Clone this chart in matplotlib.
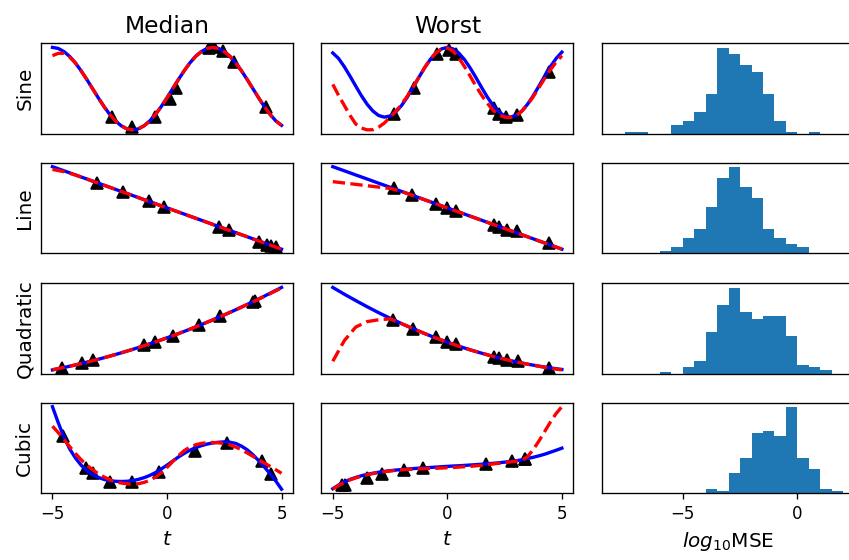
import matplotlib
matplotlib.use('Agg')
import matplotlib.pyplot as plt

# time grids the curves were read at
T = [-5.0, -4.5, -4.0, -3.5, -3.0, -2.5, -2.0, -1.5, -1.0, -0.5, 0.0,
     0.5, 1.0, 1.5, 2.0, 2.5, 3.0, 3.5, 4.0, 4.5, 5.0]
T_FINE = [-5.0, -4.75, -4.5, -4.25, -4.0, -3.75, -3.5, -3.25, -3.0, -2.75, -2.5,
          -2.25, -2.0, -1.75, -1.5, -1.25, -1.0, -0.75, -0.5, -0.25, 0.0,
          0.25, 0.5, 0.75, 1.0, 1.25, 1.5, 1.75, 2.0, 2.25, 2.5,
          2.75, 3.0, 3.25, 3.5, 3.75, 4.0, 4.25, 4.5, 4.75, 5.0]

row_names = ['Sine', 'Line', 'Quadratic', 'Cubic']
col_titles = ['Median', 'Worst']

# ---- Sine (fine grid) ----
sine_med_true = [0.95, 0.939, 0.905, 0.852, 0.781, 0.695, 0.60, 0.50, 0.40, 0.305, 0.219,
                 0.148, 0.095, 0.061, 0.05, 0.061, 0.095, 0.148, 0.219, 0.305, 0.40,
                 0.50, 0.60, 0.695, 0.781, 0.852, 0.905, 0.939, 0.95, 0.939, 0.905,
                 0.852, 0.781, 0.695, 0.60, 0.50, 0.40, 0.305, 0.219, 0.148, 0.10]
sine_med_pred = [0.86, 0.885, 0.885, 0.845, 0.781, 0.695, 0.60, 0.50, 0.40, 0.305, 0.219,
                 0.148, 0.095, 0.061, 0.05, 0.061, 0.095, 0.148, 0.219, 0.305, 0.40,
                 0.50, 0.60, 0.695, 0.781, 0.852, 0.905, 0.939, 0.95, 0.939, 0.905,
                 0.852, 0.781, 0.695, 0.60, 0.50, 0.40, 0.305, 0.219, 0.148, 0.10]
sine_med_obs_t = [-2.40, -1.53, -0.51, 0.11, 0.39, 1.85, 2.05, 2.46, 2.93, 4.30]
sine_med_obs_y = [0.19, 0.08, 0.19, 0.39, 0.51, 0.94, 0.95, 0.91, 0.79, 0.30]

sine_wst_true = [0.895, 0.835, 0.745, 0.641, 0.532, 0.425, 0.331, 0.257, 0.208, 0.190, 0.203,
                 0.247, 0.317, 0.409, 0.514, 0.624, 0.729, 0.822, 0.894, 0.940, 0.956,
                 0.940, 0.894, 0.822, 0.729, 0.624, 0.514, 0.409, 0.317, 0.247, 0.203,
                 0.190, 0.208, 0.257, 0.331, 0.425, 0.532, 0.641, 0.745, 0.835, 0.904]
sine_wst_pred = [0.55, 0.43, 0.32, 0.21, 0.115, 0.07, 0.05, 0.052, 0.08, 0.125, 0.19,
                 0.255, 0.33, 0.42, 0.52, 0.625, 0.73, 0.825, 0.895, 0.94, 0.95,
                 0.915, 0.84, 0.745, 0.64, 0.53, 0.43, 0.34, 0.265, 0.215, 0.19,
                 0.185, 0.205, 0.255, 0.325, 0.415, 0.515, 0.615, 0.71, 0.795, 0.865]
sine_wst_obs_t = [-2.33, -1.46, -0.44, 0.07, 0.36, 2.03, 2.25, 2.55, 3.06, 4.44]
sine_wst_obs_y = [0.22, 0.51, 0.88, 0.93, 0.88, 0.29, 0.22, 0.19, 0.21, 0.69]

# ---- Line ----
line_true = [0.955, 0.91, 0.864, 0.819, 0.773, 0.728, 0.682, 0.637, 0.591, 0.546, 0.50,
             0.455, 0.409, 0.364, 0.318, 0.273, 0.227, 0.182, 0.136, 0.091, 0.045]
line_med_pred = [0.925, 0.90, 0.864, 0.819, 0.773, 0.728, 0.682, 0.637, 0.591, 0.546, 0.50,
                 0.455, 0.409, 0.364, 0.318, 0.273, 0.227, 0.182, 0.136, 0.091, 0.045]
line_med_obs_t = [-3.06, -1.90, -0.80, -0.15, 2.26, 2.69, 4.00, 4.37, 4.55, 4.74]
line_med_obs_y = [0.78, 0.675, 0.575, 0.515, 0.29, 0.255, 0.12, 0.095, 0.085, 0.07]

line_wst_pred = [0.79, 0.775, 0.76, 0.745, 0.73, 0.715, 0.682, 0.637, 0.591, 0.546, 0.50,
                 0.455, 0.409, 0.364, 0.318, 0.273, 0.227, 0.182, 0.136, 0.091, 0.045]
line_wst_obs_t = [-2.33, -1.53, -0.51, 0.0, 0.36, 2.03, 2.25, 2.61, 3.05, 4.43]
line_wst_obs_y = [0.72, 0.64, 0.54, 0.50, 0.47, 0.31, 0.29, 0.26, 0.24, 0.11]

# ---- Quadratic ----
quad_med_true = [0.05, 0.076, 0.104, 0.134, 0.166, 0.20, 0.236, 0.274, 0.314, 0.356, 0.40,
                 0.446, 0.494, 0.544, 0.596, 0.65, 0.706, 0.764, 0.824, 0.886, 0.95]
quad_med_pred = [0.052, 0.077, 0.104, 0.134, 0.166, 0.20, 0.236, 0.274, 0.314, 0.356, 0.40,
                 0.446, 0.494, 0.544, 0.596, 0.65, 0.706, 0.764, 0.822, 0.882, 0.945]
quad_med_obs_t = [-4.59, -3.72, -3.21, -1.02, -0.51, 0.26, 1.38, 2.33, 3.75, 3.86]
quad_med_obs_y = [0.075, 0.12, 0.155, 0.32, 0.355, 0.425, 0.54, 0.635, 0.79, 0.805]

quad_wst_true = [0.955, 0.881, 0.811, 0.743, 0.678, 0.617, 0.558, 0.503, 0.45, 0.40, 0.354,
                 0.31, 0.27, 0.233, 0.198, 0.167, 0.138, 0.113, 0.091, 0.071, 0.055]
quad_wst_pred = [0.145, 0.37, 0.52, 0.58, 0.60, 0.61, 0.558, 0.503, 0.45, 0.40, 0.354,
                 0.31, 0.27, 0.233, 0.198, 0.167, 0.138, 0.113, 0.09, 0.068, 0.05]
quad_wst_obs_t = [-2.36, -1.49, -0.51, 0.0, 0.36, 2.03, 2.25, 2.61, 3.09, 4.43]
quad_wst_obs_y = [0.60, 0.50, 0.41, 0.354, 0.33, 0.197, 0.183, 0.161, 0.146, 0.073]

# ---- Cubic (fine grid) ----
cub_med_true = [0.955, 0.78, 0.62, 0.49, 0.39, 0.31, 0.25, 0.205, 0.175, 0.153, 0.138,
                0.132, 0.13, 0.132, 0.14, 0.153, 0.172, 0.197, 0.228, 0.268, 0.31,
                0.355, 0.40, 0.44, 0.475, 0.503, 0.525, 0.543, 0.555, 0.563, 0.567,
                0.563, 0.55, 0.52, 0.48, 0.425, 0.36, 0.29, 0.215, 0.135, 0.045]
cub_med_pred = [0.74, 0.67, 0.595, 0.515, 0.44, 0.37, 0.31, 0.26, 0.215, 0.18, 0.15,
                0.128, 0.113, 0.104, 0.10, 0.105, 0.12, 0.143, 0.178, 0.225, 0.285,
                0.35, 0.415, 0.47, 0.51, 0.535, 0.55, 0.558, 0.56, 0.557, 0.548,
                0.533, 0.51, 0.48, 0.445, 0.408, 0.37, 0.333, 0.297, 0.26, 0.22]
cub_med_obs_t = [-4.52, -3.53, -3.21, -2.48, -1.53, -0.37, 1.24, 2.63, 4.15, 4.52]
cub_med_obs_y = [0.637, 0.278, 0.222, 0.129, 0.129, 0.24, 0.462, 0.556, 0.351, 0.215]

cub_wst_true = [0.045, 0.085, 0.12, 0.148, 0.17, 0.189, 0.205, 0.217, 0.228, 0.237, 0.245,
                0.252, 0.258, 0.263, 0.268, 0.273, 0.277, 0.281, 0.285, 0.289, 0.293,
                0.297, 0.30, 0.304, 0.308, 0.312, 0.317, 0.322, 0.327, 0.333, 0.34,
                0.347, 0.355, 0.366, 0.38, 0.394, 0.41, 0.428, 0.45, 0.472, 0.495]
cub_wst_pred = [0.04, 0.08, 0.115, 0.143, 0.165, 0.184, 0.20, 0.213, 0.225, 0.234, 0.242,
                0.249, 0.255, 0.259, 0.262, 0.265, 0.268, 0.27, 0.272, 0.275, 0.278,
                0.281, 0.285, 0.289, 0.293, 0.299, 0.305, 0.312, 0.32, 0.327, 0.335,
                0.342, 0.35, 0.36, 0.40, 0.48, 0.575, 0.68, 0.785, 0.88, 0.955]
cub_wst_obs_t = [-4.62, -4.47, -3.49, -2.84, -1.89, -1.05, 1.67, 2.84, 3.38, 3.40]
cub_wst_obs_y = [0.09, 0.085, 0.167, 0.203, 0.251, 0.27, 0.315, 0.351, 0.37, 0.372]

# ---- log10 MSE histograms ----
sine_edges = [-7.5, -7.0, -6.5, -6.0, -5.5, -5.0, -4.5, -4.0, -3.5, -3.0, -2.5, -2.0,
              -1.5, -1.0, -0.5, 0.0, 0.5, 1.0]
sine_counts = [1, 1, 0, 0, 4, 6, 10, 18, 39, 36, 31, 28, 18, 6, 1, 0, 1]
line_edges = [-6.0, -5.5, -5.0, -4.5, -4.0, -3.5, -3.0, -2.5, -2.0, -1.5, -1.0, -0.5, 0.0, 0.5]
line_counts = [1, 3, 7, 11, 21, 34, 39, 30, 25, 11, 7, 4, 3]
quad_edges = [-6.0, -5.5, -5.0, -4.5, -4.0, -3.5, -3.0, -2.5, -2.0, -1.5, -1.0, -0.5,
              0.0, 0.5, 1.0, 1.5]
quad_counts = [1, 0, 3, 6, 19, 31, 39, 28, 25, 26, 26, 17, 4, 3, 2]
cub_edges = [-4.0, -3.5, -3.0, -2.5, -2.0, -1.5, -1.0, -0.5, 0.0, 0.5, 1.0, 1.5, 2.0]
cub_counts = [2, 1, 9, 16, 27, 28, 26, 39, 16, 11, 2, 1]

panels = [
    [(T_FINE, sine_med_true, sine_med_pred, sine_med_obs_t, sine_med_obs_y),
     (T_FINE, sine_wst_true, sine_wst_pred, sine_wst_obs_t, sine_wst_obs_y),
     (sine_edges, sine_counts)],
    [(T, line_true, line_med_pred, line_med_obs_t, line_med_obs_y),
     (T, line_true, line_wst_pred, line_wst_obs_t, line_wst_obs_y),
     (line_edges, line_counts)],
    [(T, quad_med_true, quad_med_pred, quad_med_obs_t, quad_med_obs_y),
     (T, quad_wst_true, quad_wst_pred, quad_wst_obs_t, quad_wst_obs_y),
     (quad_edges, quad_counts)],
    [(T_FINE, cub_med_true, cub_med_pred, cub_med_obs_t, cub_med_obs_y),
     (T_FINE, cub_wst_true, cub_wst_pred, cub_wst_obs_t, cub_wst_obs_y),
     (cub_edges, cub_counts)],
]

plt.rcParams['font.size'] = 10
fig = plt.figure(figsize=(849/120, 560/120), dpi=120)

lefts = [0.0483, 0.3785, 0.7091]
bottoms = [0.7607, 0.5477, 0.3321, 0.1191]
w = 0.2968
h = 0.162

for r in range(4):
    for c in range(3):
        ax = fig.add_axes([lefts[c], bottoms[r], w, h])
        if c < 2:
            tt, true, pred, ot, oy = panels[r][c]
            ax.plot(ot, oy, 'k^', markersize=7.5)
            ax.plot(tt, true, color='blue', lw=2)
            ax.plot(tt, pred, color='red', lw=2, ls='--')
            ax.set_yticks([])
            if r == 3:
                ax.set_xticks([-5, 0, 5])
                ax.set_xlabel('$t$', fontsize=12)
            else:
                ax.set_xticks([])
            if r == 0:
                ax.set_title(col_titles[c], fontsize=14)
            if c == 0:
                ax.set_ylabel(row_names[r], fontsize=12)
        else:
            edges, counts = panels[r][c]
            mids = [(edges[i] + edges[i+1]) / 2 for i in range(len(counts))]
            ax.hist(mids, bins=edges, weights=counts, color='C0')
            ax.set_xlim(-8.52, 2.47)
            ax.set_yticks([])
            if r == 3:
                ax.set_xticks([-5, 0])
                ax.set_xlabel('$log_{10}$MSE', fontsize=12)
            else:
                ax.set_xticks([])

fig.savefig('out.png', dpi=120)
